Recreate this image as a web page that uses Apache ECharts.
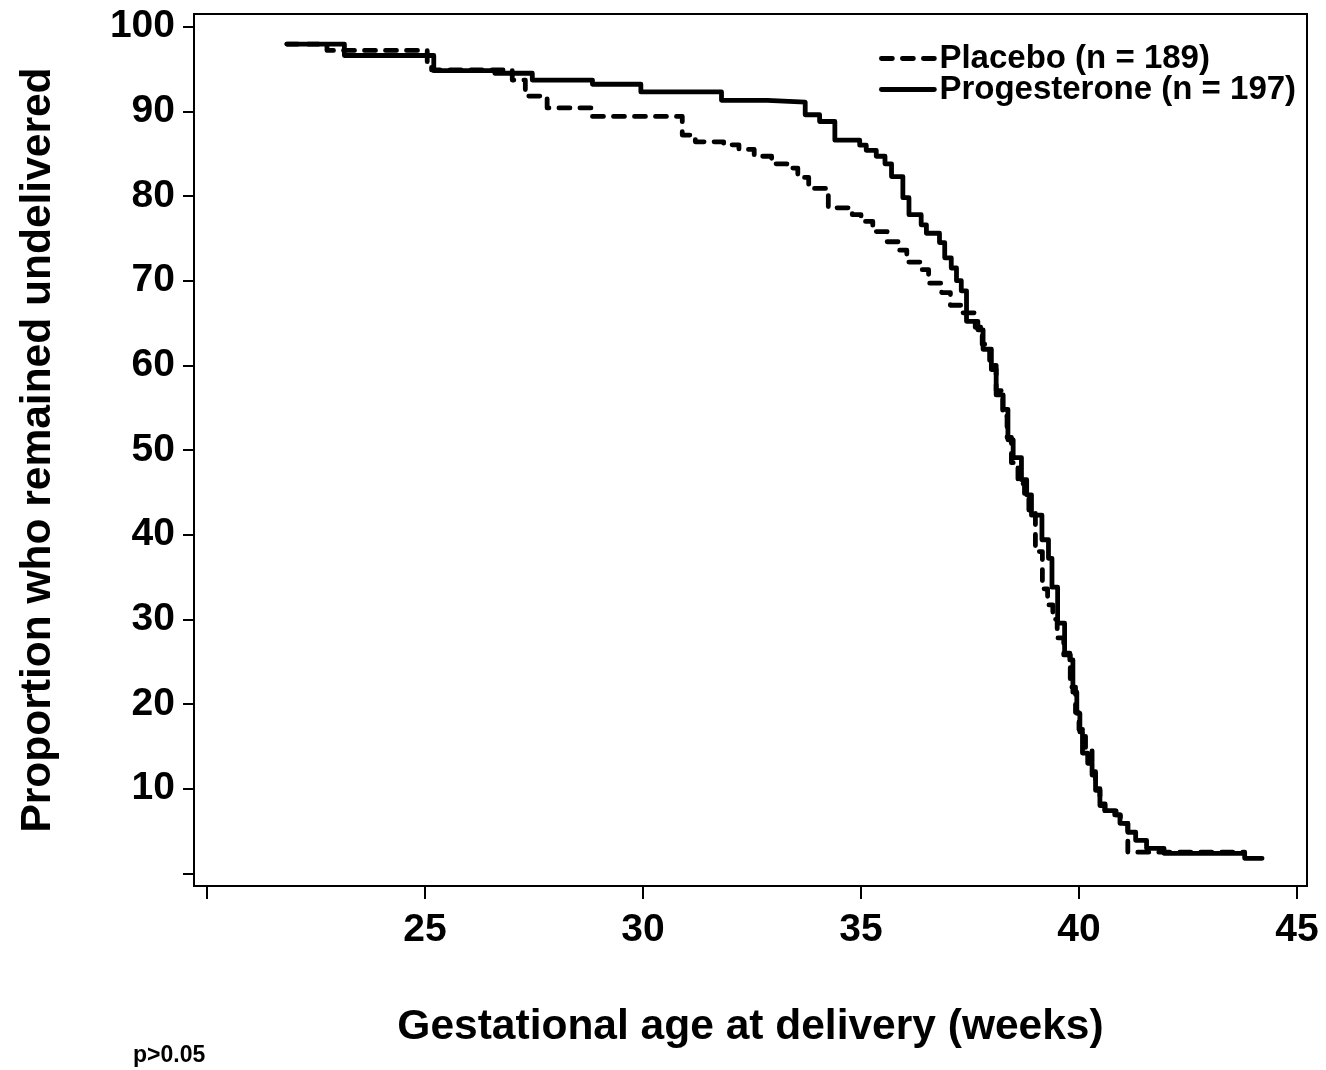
<!DOCTYPE html>
<html>
<head>
<meta charset="utf-8">
<script src="https://cdn.jsdelivr.net/npm/echarts@6/dist/echarts.min.js"></script>
<style>
  html, body { margin: 0; padding: 0; background: #fff; }
  #chart { width: 1326px; height: 1070px; }
</style>
</head>
<body>
<div id="chart"></div>
<script>
// Kaplan-Meier curves (weeks, % undelivered)
const placeboWeeks = [21.83, 22.75, 25.05, 25.15, 27.0, 27.3, 27.8, 28.84, 30.9, 31.2, 31.85, 32.2, 32.55, 32.95, 33.3, 33.55, 33.8, 34.25, 34.8, 35.0, 35.27, 35.6, 35.85, 36.05, 36.35, 36.55, 36.85, 37.05, 37.3, 37.62, 37.78, 37.95, 38.1, 38.25, 38.35, 38.45, 38.6, 38.75, 38.85, 39.0, 39.16, 39.28, 39.4, 39.5, 39.65, 39.8, 39.92, 40.0, 40.15, 40.3, 40.38, 40.48, 40.6, 40.85, 40.95, 41.12, 43.8];
const placeboPct   = [97.95, 97.2, 95.8, 94.9, 93.7, 91.8, 90.4, 89.4, 87.2, 86.4, 86.05, 85.5, 84.7, 83.8, 83.3, 82.2, 80.9, 78.6, 77.8, 77.0, 75.8, 74.6, 73.6, 72.2, 71.3, 69.7, 68.6, 67.1, 66.2, 64.5, 62.5, 60.0, 57.0, 54.0, 51.5, 48.5, 46.0, 44.5, 42.5, 38.0, 33.6, 31.7, 30.0, 27.8, 25.8, 22.0, 19.0, 17.0, 14.8, 12.0, 10.0, 8.2, 7.4, 6.9, 5.9, 2.5, 2.4];

const progWeeks = [21.83, 23.15, 25.2, 26.6, 27.46, 28.84, 29.95, 31.8, 32.85, 33.72, 34.05, 34.4, 34.97, 35.12, 35.35, 35.55, 35.7, 35.96, 36.1, 36.38, 36.5, 36.8, 36.92, 37.07, 37.19, 37.3, 37.42, 37.68, 37.8, 37.99, 38.1, 38.26, 38.37, 38.49, 38.68, 38.8, 38.91, 39.15, 39.3, 39.38, 39.51, 39.67, 39.79, 39.86, 39.95, 40.02, 40.08, 40.2, 40.3, 40.38, 40.48, 40.59, 40.82, 40.94, 41.12, 41.3, 41.55, 41.95, 43.8, 44.2];
const progPct   = [97.95, 96.6, 94.8, 94.5, 93.7, 93.2, 92.3, 91.3, 91.1, 89.6, 88.8, 86.6, 86.0, 85.4, 84.7, 83.8, 82.3, 79.8, 77.8, 76.6, 75.6, 74.5, 72.7, 71.5, 70.0, 68.8, 65.2, 64.2, 61.9, 59.5, 56.5, 54.8, 51.2, 49.1, 46.5, 44.7, 42.3, 39.4, 37.2, 33.8, 29.55, 26.0, 25.2, 21.4, 18.9, 16.7, 14.2, 13.0, 11.6, 9.8, 8.0, 7.4, 6.9, 5.9, 4.85, 3.9, 2.95, 2.36, 1.77, 1.77];

const xTickValues  = [20, 25, 30, 35, 40, 45];
const xLabelValues = [25, 30, 35, 40, 45];
const yTickValues  = [0, 10, 20, 30, 40, 50, 60, 70, 80, 90, 100];
const yLabelValues = [10, 20, 30, 40, 50, 60, 70, 80, 90, 100];

const seriesNames = ['Placebo (n = 189)', 'Progesterone (n = 197)'];
const xTitle = 'Gestational age at delivery (weeks)';
const yTitle = 'Proportion who remained undelivered';
const noteText = 'p>0.05';

const FONT = '"Liberation Sans", Arial, Helvetica, sans-serif';

function pairs(xs, ys) { return xs.map((x, i) => [x, ys[i]]); }

const chart = echarts.init(document.getElementById('chart'), null, { renderer: 'canvas' });
chart.setOption({
  animation: false,
  backgroundColor: '#fff',
  grid: {
    left: 194, right: 19, top: 14, bottom: 184,
    show: true, borderColor: '#000', borderWidth: 2, backgroundColor: 'transparent'
  },
  legend: {
    orient: 'vertical',
    left: 874, top: 37,
    itemWidth: 53, itemHeight: 22, itemGap: -2,
    itemStyle: { color: 'rgba(0,0,0,0)', borderWidth: 0, opacity: 0 },
    lineStyle: { width: 4.8, cap: 'round', color: '#000' },
    textStyle: { fontFamily: FONT, fontWeight: 'bold', fontSize: 33, color: '#000' },
    data: seriesNames
  },
  xAxis: {
    type: 'value',
    min: 19.7, max: 45.23,
    name: xTitle,
    nameLocation: 'middle',
    nameGap: 120,
    nameTextStyle: { fontFamily: FONT, fontWeight: 'bold', fontSize: 42.5, color: '#000' },
    axisLine: { show: true, onZero: false, lineStyle: { color: '#000', width: 2 } },
    axisTick: { show: true, customValues: xTickValues, length: 13, lineStyle: { color: '#000', width: 2 } },
    axisLabel: { customValues: xLabelValues, margin: 25, fontFamily: FONT, fontWeight: 'bold', fontSize: 39, color: '#000' },
    splitLine: { show: false }
  },
  yAxis: {
    type: 'value',
    min: -1.5, max: 101.5,
    name: yTitle,
    nameLocation: 'middle',
    nameGap: 134,
    nameTextStyle: { fontFamily: FONT, fontWeight: 'bold', fontSize: 42.5, color: '#000' },
    axisLine: { show: true, onZero: false, lineStyle: { color: '#000', width: 2 } },
    axisTick: { show: true, customValues: yTickValues, length: 11, lineStyle: { color: '#000', width: 2 } },
    axisLabel: { customValues: yLabelValues, margin: 19, fontFamily: FONT, fontWeight: 'bold', fontSize: 39, color: '#000' },
    splitLine: { show: false }
  },
  graphic: [{
    type: 'text', left: 133, top: 1044,
    style: { text: noteText, font: 'bold 23px ' + FONT, fill: '#000' }
  }],
  series: [
    {
      name: seriesNames[0], type: 'line', step: 'end',
      data: pairs(placeboWeeks, placeboPct),
      showSymbol: false, symbol: 'none', color: '#000',
      lineStyle: { color: '#000', width: 4.8, type: [11, 10], cap: 'round', join: 'round' }
    },
    {
      name: seriesNames[1], type: 'line', step: 'end',
      data: pairs(progWeeks, progPct),
      showSymbol: false, symbol: 'none', color: '#000',
      lineStyle: { color: '#000', width: 4.8, type: 'solid', cap: 'round', join: 'round' }
    }
  ]
});
</script>
</body>
</html>
